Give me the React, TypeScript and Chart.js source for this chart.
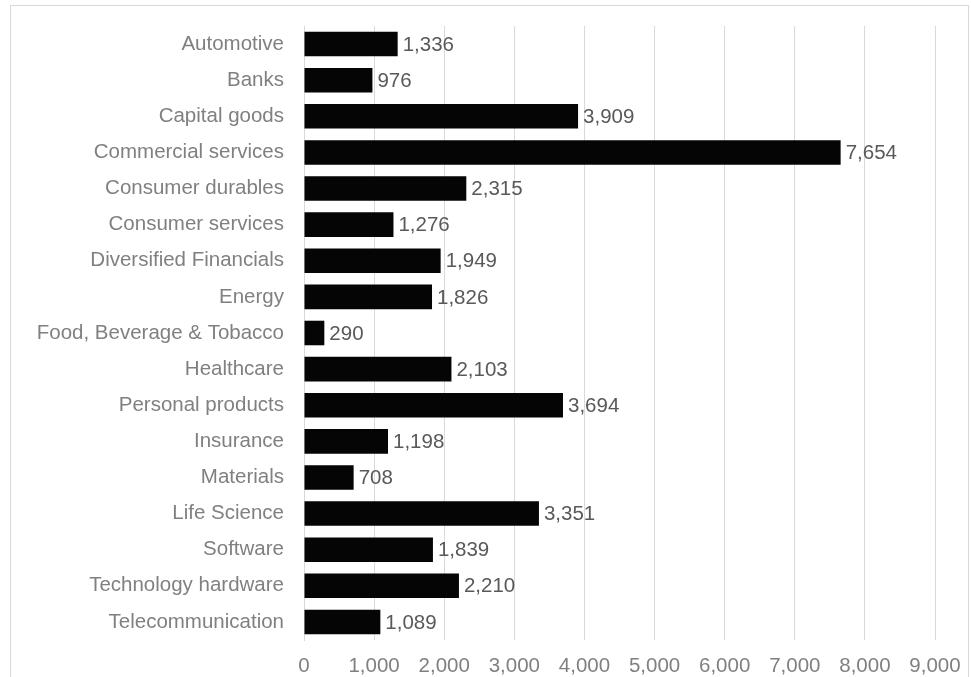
import React, { useEffect, useRef } from "react";
import { Chart, registerables } from "chart.js";

Chart.register(...registerables);

const categories = [
  "Automotive",
  "Banks",
  "Capital goods",
  "Commercial services",
  "Consumer durables",
  "Consumer services",
  "Diversified Financials",
  "Energy",
  "Food, Beverage & Tobacco",
  "Healthcare",
  "Personal products",
  "Insurance",
  "Materials",
  "Life Science",
  "Software",
  "Technology hardware",
  "Telecommunication",
];

const values = [1336, 976, 3909, 7654, 2315, 1276, 1949, 1826, 290, 2103, 3694, 1198, 708, 3351, 1839, 2210, 1089];

const xMin = 0;
const xMax = 9000;
const xStep = 1000;

const FONT = "'Liberation Sans', Arial, sans-serif";
const FS = 20.5;

const fmt = (v: number) => Number(v).toLocaleString("en-US");

const frameAndLabels = {
  id: "frameAndLabels",
  beforeDraw(chart: any) {
    const ctx = chart.ctx;
    ctx.save();
    ctx.fillStyle = "#ffffff";
    ctx.fillRect(0, 0, chart.width, chart.height);
    ctx.strokeStyle = "#d9d9d9";
    ctx.lineWidth = 1;
    ctx.strokeRect(10.5, 5.5, 958, 720);
    ctx.restore();
  },
  afterDatasetsDraw(chart: any) {
    const ctx = chart.ctx;
    const meta = chart.getDatasetMeta(0);
    const data = chart.data.datasets[0].data;
    ctx.save();
    ctx.font = `${FS}px ${FONT}`;
    ctx.fillStyle = "#595959";
    ctx.textAlign = "left";
    ctx.textBaseline = "middle";
    meta.data.forEach((el: any, i: number) => {
      ctx.fillText(fmt(data[i]), el.x + 5, el.y + 1);
    });
    ctx.restore();
  },
};

export default function App() {
  const ref = useRef<HTMLCanvasElement | null>(null);

  useEffect(() => {
    if (!ref.current) return;
    const chart = new Chart(ref.current, {
      type: "bar",
      data: {
        labels: categories,
        datasets: [
          {
            data: values,
            backgroundColor: "#050505",
            borderWidth: 0,
            categoryPercentage: 1,
            barPercentage: 0.68,
          },
        ],
      },
      options: {
        indexAxis: "y",
        responsive: false,
        animation: false,
        devicePixelRatio: 1,
        layout: { padding: { top: 26, right: 36, bottom: 0, left: 0 } },
        plugins: {
          legend: { display: false },
          tooltip: { enabled: false },
          title: { display: false },
        },
        scales: {
          x: {
            min: xMin,
            max: xMax,
            ticks: {
              stepSize: xStep,
              color: "#808080",
              font: { family: FONT, size: FS },
              padding: 14,
              callback: (v: any) => fmt(v),
            },
            grid: { color: "#d9d9d9", drawTicks: false },
            border: { display: false },
            afterFit: (s: any) => {
              s.height = 37;
              s.paddingLeft = 0;
              s.paddingRight = 0;
            },
          },
          y: {
            ticks: {
              color: "#808080",
              font: { family: FONT, size: FS },
              padding: 20,
            },
            grid: { display: false, drawTicks: false },
            border: { display: true, color: "#d9d9d9" },
            afterFit: (s: any) => {
              s.width = 304;
              s.paddingTop = 0;
              s.paddingBottom = 0;
            },
          },
        },
      },
      plugins: [frameAndLabels],
    });
    return () => chart.destroy();
  }, []);

  return (
    <div style={{ position: "fixed", left: 0, top: 0, width: 971, height: 677, overflow: "hidden", background: "#fff" }}>
      <canvas ref={ref} width={971} height={677} style={{ display: "block", width: 971, height: 677 }} />
    </div>
  );
}
